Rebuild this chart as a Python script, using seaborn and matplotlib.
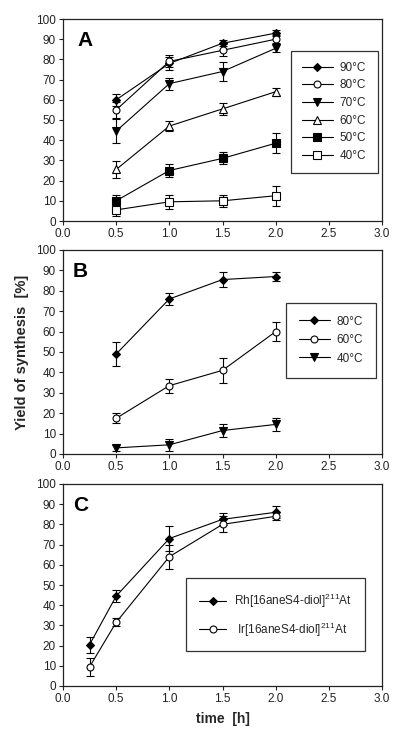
import matplotlib
matplotlib.use("Agg")
import matplotlib.pyplot as plt
import seaborn as sns
import pandas as pd
import numpy as np

# ---------------- data ----------------
time_ab = [0.5, 1.0, 1.5, 2.0]
time_c = [0.25, 0.5, 1.0, 1.5, 2.0]

a_labels = ["90°C", "80°C", "70°C", "60°C", "50°C", "40°C"]
a_90 = [60, 78, 88, 93]
a_90_err = [3, 3, 1.5, 1.5]
a_80 = [55, 79, 84.5, 90]
a_80_err = [4, 3, 3, 2]
a_70 = [44.5, 68, 74, 85.5]
a_70_err = [6, 3, 4.5, 2]
a_60 = [25.5, 47, 55.5, 64]
a_60_err = [4, 2.5, 3, 2]
a_50 = [10, 25, 31, 38.5]
a_50_err = [3, 3, 3, 5]
a_40 = [5.5, 9.5, 10, 12.5]
a_40_err = [3, 3.5, 3, 5]

b_labels = ["80°C", "60°C", "40°C"]
b_80 = [49, 76, 85.5, 87]
b_80_err = [6, 3, 3.5, 2]
b_60 = [17.5, 33.5, 41, 60]
b_60_err = [2.5, 3.5, 6, 4.5]
b_40 = [3, 4.5, 11.5, 14.5]
b_40_err = [1.5, 3, 3, 3]

c_labels = [r"Rh[16aneS4-diol]$^{211}$At", r" Ir[16aneS4-diol]$^{211}$At"]
c_rh = [20.5, 44.5, 73, 82.5, 86]
c_rh_err = [4, 3, 6, 3, 3]
c_ir = [9.5, 31.5, 64, 80, 84]
c_ir_err = [4.5, 2, 6, 4, 2]

x_ticks = [0.0, 0.5, 1.0, 1.5, 2.0, 2.5, 3.0]
y_ticks = list(range(0, 101, 10))

# ---------------- style ----------------
sns.set_theme(style="ticks")
plt.rcParams["font.family"] = ["Liberation Sans", "DejaVu Sans"]
plt.rcParams["mathtext.fontset"] = "custom"
plt.rcParams["mathtext.rm"] = "Liberation Sans"
plt.rcParams["axes.linewidth"] = 0.9
plt.rcParams["axes.edgecolor"] = "#222222"

fig = plt.figure(figsize=(4.0, 7.38), dpi=100)
L, W = 63 / 400, 319 / 400
axA = fig.add_axes([L, 1 - 221 / 738, W, 202 / 738])
axB = fig.add_axes([L, 1 - 454 / 738, W, 204 / 738])
axC = fig.add_axes([L, 1 - 686 / 738, W, 202 / 738])

def draw(ax, x, series, errs, labels, specs):
    for y, e, lab, (mk, filled, ms) in zip(series, errs, labels, specs):
        df = pd.DataFrame({"time": x, "yield": y})
        sns.lineplot(data=df, x="time", y="yield", ax=ax, color="black",
                     linewidth=0.8, marker=mk, markersize=ms,
                     markerfacecolor="black" if filled else "white",
                     markeredgecolor="black", markeredgewidth=0.8,
                     label=lab, zorder=3)
        ax.errorbar(x, y, yerr=e, fmt="none", ecolor="black",
                    elinewidth=0.8, capsize=3, capthick=0.8, zorder=2)

draw(axA, time_ab,
     [a_90, a_80, a_70, a_60, a_50, a_40],
     [a_90_err, a_80_err, a_70_err, a_60_err, a_50_err, a_40_err],
     a_labels,
     [("D", True, 4.5), ("o", False, 5), ("v", True, 6),
      ("^", False, 6), ("s", True, 5.5), ("s", False, 5.5)])
draw(axB, time_ab,
     [b_80, b_60, b_40],
     [b_80_err, b_60_err, b_40_err],
     b_labels,
     [("D", True, 4.5), ("o", False, 5), ("v", True, 6)])
draw(axC, time_c,
     [c_rh, c_ir],
     [c_rh_err, c_ir_err],
     c_labels,
     [("D", True, 4.5), ("o", False, 5)])

for ax, letter, lx in zip([axA, axB, axC], ["A", "B", "C"], [0.045, 0.03, 0.032]):
    ax.set_xlim(0, 3.0)
    ax.set_ylim(0, 100)
    ax.set_xticks(x_ticks)
    ax.set_xticklabels([f"{v:.1f}" for v in x_ticks])
    ax.set_yticks(y_ticks)
    ax.set_yticklabels([str(v) for v in y_ticks])
    ax.tick_params(direction="out", length=3, width=0.8, labelsize=8.5,
                   pad=2, colors="#222222")
    for s in ax.spines.values():
        s.set_visible(True)
    ax.set_xlabel("")
    ax.set_ylabel("")
    ax.text(lx, 0.94, letter, transform=ax.transAxes, fontsize=15,
            fontweight="bold", ha="left", va="top", color="black")

axB.set_ylabel("Yield of synthesis  [%]", fontsize=10.5, fontweight="bold",
               labelpad=5)
axC.set_xlabel("time  [h]", fontsize=10, fontweight="bold", labelpad=5)

legkw = dict(frameon=True, fancybox=False, edgecolor="black",
             fontsize=8.5, handletextpad=0.6)
legA = axA.legend(loc="center", bbox_to_anchor=(0.71, 0.24, 0.28, 0.60),
                  labelspacing=0.48, borderpad=0.95, handlelength=2.6, **legkw)
legB = axB.legend(loc="center", bbox_to_anchor=(0.70, 0.377, 0.28, 0.363),
                  labelspacing=0.55, borderpad=1.1, handlelength=2.6, **legkw)
legC = axC.legend(loc="center", bbox_to_anchor=(0.395, 0.173, 0.542, 0.357),
                  labelspacing=0.9, borderpad=1.1, handlelength=2.3, **legkw)
for leg in (legA, legB, legC):
    leg.get_frame().set_linewidth(0.9)

fig.savefig("out.png", dpi=100)
